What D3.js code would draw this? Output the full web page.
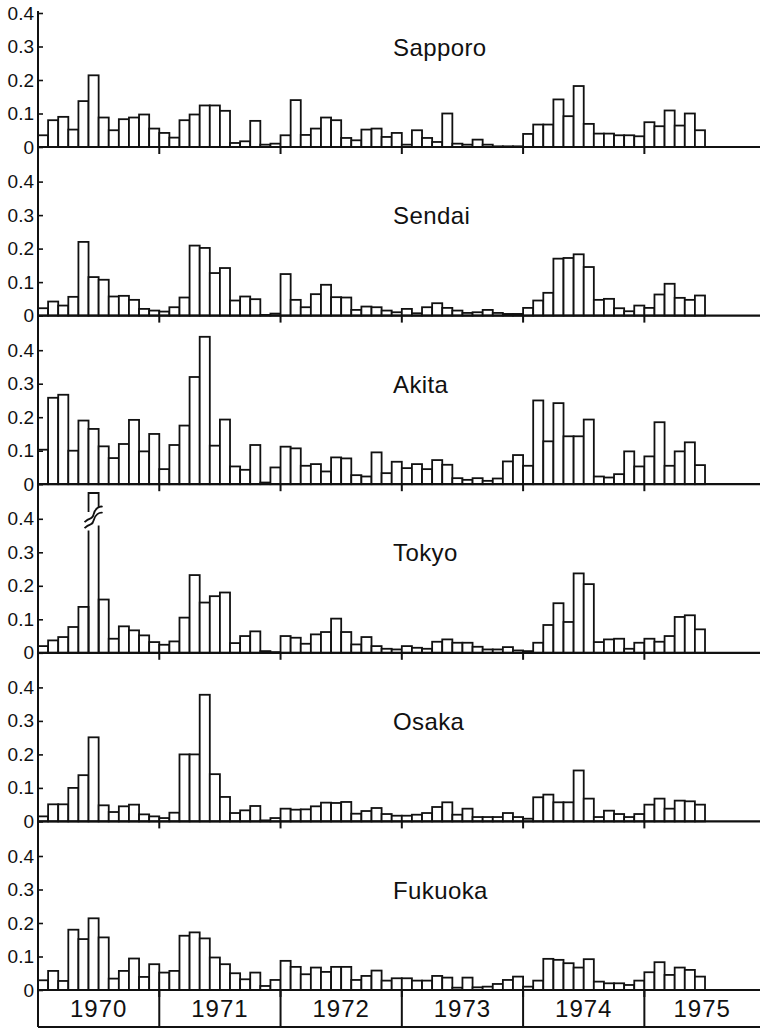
<!DOCTYPE html>
<html>
<head>
<meta charset="utf-8">
<script src="https://cdn.jsdelivr.net/npm/d3@7"></script>
<style>
  body { margin: 0; background: #fff; }
  text { font-family: "Liberation Sans", Arial, sans-serif; fill: #111; }
</style>
</head>
<body>
<svg id="chart" width="761" height="1030"></svg>
<script>
// monthly values, Jan 1970 .. Jun 1975
var years = [1970, 1971, 1972, 1973, 1974, 1975];
var monthsPerYear = [12, 12, 12, 12, 12, 6];
var stations = ['Sapporo', 'Sendai', 'Akita', 'Tokyo', 'Osaka', 'Fukuoka'];
var yTicks = [0, 0.1, 0.2, 0.3, 0.4];

var sapporo = [
  .035, .08, .09, .052, .137, .214, .088, .05, .083, .088, .097, .055,
  .042, .028, .08, .097, .124, .124, .108, .012, .017, .078, .007, .01,
  .035, .14, .036, .055, .088, .08, .027, .02, .052, .055, .03, .042,
  .007, .05, .027, .015, .1, .01, .007, .022, .007, .002, .002, .002,
  .039, .067, .067, .142, .092, .182, .069, .04, .04, .035, .035, .032,
  .074, .062, .109, .064, .1, .05
];
var sendai = [
  .022, .042, .03, .056, .22, .115, .107, .057, .059, .047, .02, .015,
  .012, .025, .054, .209, .202, .127, .142, .045, .057, .049, .002, .006,
  .124, .047, .025, .064, .092, .055, .054, .017, .027, .025, .015, .01,
  .02, .007, .025, .037, .023, .015, .008, .01, .017, .008, .005, .005,
  .023, .045, .068, .17, .172, .183, .145, .047, .05, .022, .013, .03,
  .023, .063, .095, .053, .047, .06
];
var akita = [
  .103, .258, .267, .1, .19, .165, .113, .078, .12, .192, .098, .15,
  .045, .117, .175, .32, .44, .115, .193, .053, .043, .117, .005, .05,
  .112, .107, .055, .06, .038, .08, .077, .027, .023, .095, .033, .067,
  .048, .06, .045, .072, .058, .018, .013, .018, .01, .017, .068, .087,
  .055, .25, .128, .242, .143, .143, .193, .023, .02, .03, .098, .053,
  .083, .185, .055, .098, .125, .057
];
var tokyo = [
  .02, .037, .047, .077, .137, .6, .159, .042, .079, .067, .052, .032,
  .024, .034, .105, .232, .15, .169, .18, .029, .05, .064, .005, .002,
  .05, .045, .027, .055, .062, .102, .062, .025, .047, .02, .012, .01,
  .02, .015, .012, .033, .04, .03, .03, .018, .01, .01, .017, .007,
  .005, .03, .083, .148, .092, .237, .205, .032, .04, .042, .012, .03,
  .042, .033, .05, .107, .112, .07
];
var osaka = [
  .015, .051, .051, .1, .138, .251, .048, .028, .045, .05, .021, .015,
  .01, .026, .2, .2, .378, .141, .073, .025, .033, .046, .003, .01,
  .038, .035, .036, .045, .056, .055, .058, .023, .031, .04, .022, .017,
  .017, .02, .025, .043, .057, .02, .038, .013, .013, .013, .025, .013,
  .008, .072, .08, .057, .057, .152, .068, .013, .032, .022, .013, .022,
  .05, .068, .038, .062, .06, .05
];
var fukuoka = [
  .029, .057, .027, .18, .152, .214, .157, .034, .057, .094, .039, .077,
  .052, .057, .162, .172, .154, .097, .077, .05, .032, .052, .012, .03,
  .087, .069, .047, .067, .054, .069, .069, .03, .042, .058, .028, .035,
  .035, .028, .028, .042, .037, .007, .037, .008, .01, .018, .03, .04,
  .01, .028, .093, .09, .08, .067, .092, .025, .02, .02, .015, .028,
  .053, .083, .045, .067, .06, .04
];
var series = [sapporo, sendai, akita, tokyo, osaka, fukuoka];

var months = [];
years.forEach(function(yr, i) {
  d3.range(monthsPerYear[i]).forEach(function(m) { months.push(yr + '-' + (m + 1)); });
});

var left = 38, barsEnd = 705, right = 760;
var firstBase = 147, panelStep = 168.6, panelH = 134;
var boxBottom = 1027;
var breakAt = 0.45;   // values above this are drawn as a broken bar

var svg = d3.select('#chart');
svg.append('rect').attr('width', 761).attr('height', 1030).attr('fill', '#fff');

var x = d3.scaleBand().domain(months).range([left, barsEnd]).padding(0);
var yearX = years.map(function(yr) { return x(yr + '-1'); });

series.forEach(function(vals, p) {
  var base = firstBase + p * panelStep;
  var y = d3.scaleLinear().domain([0, 0.4]).range([base, base - panelH]);
  var g = svg.append('g');

  // bars
  g.selectAll('rect.bar')
    .data(vals.map(function(v, i) { return {m: months[i], v: v}; }).filter(function(d) { return d.v <= breakAt; }))
    .enter().append('rect')
    .attr('class', 'bar')
    .attr('x', function(d) { return x(d.m); })
    .attr('y', function(d) { return y(d.v); })
    .attr('width', x.bandwidth())
    .attr('height', function(d) { return base - y(d.v); })
    .attr('fill', '#fff')
    .attr('stroke', '#111')
    .attr('stroke-width', 1.8);

  // broken (off-scale) bars
  vals.forEach(function(v, i) {
    if (v <= breakAt) return;
    var x0 = x(months[i]), x1 = x0 + x.bandwidth();
    var bg = g.append('g').attr('fill', 'none').attr('stroke', '#111').attr('stroke-width', 1.8);
    bg.append('path').attr('d', 'M' + x0 + ',' + base + 'V' + y(0.365) + 'M' + x1 + ',' + base + 'V' + y(0.38));
    bg.append('path').attr('d', 'M' + x0 + ',' + y(0.42) + 'V' + y(0.477) + 'H' + x1 + 'V' + y(0.432));
    [0, 0.018].forEach(function(o) {
      var ya = y(0.372 + o), yb = y(0.418 + o);
      bg.append('path').attr('d',
        'M' + (x0 - 4) + ',' + ya +
        'C' + (x0 + 2) + ',' + (ya - 6) + ' ' + (x0 + 4) + ',' + (ya - 2) + ' ' + ((x0 + x1) / 2) + ',' + ((ya + yb) / 2) +
        'S' + (x1 + 1) + ',' + (yb - 1) + ' ' + (x1 + 4) + ',' + yb);
    });
  });

  // y axis ticks and labels
  var ax = g.append('g').attr('transform', 'translate(' + left + ',0)')
    .call(d3.axisLeft(y).tickValues(yTicks).tickSizeInner(-5).tickSizeOuter(0).tickPadding(4)
      .tickFormat(function(d) { return d === 0 ? '0' : d3.format('.1f')(d); }));
  ax.select('.domain').remove();
  ax.selectAll('line').attr('stroke', '#111').attr('stroke-width', 1.6);
  ax.selectAll('text').attr('font-size', 19).attr('font-family', '"Liberation Sans", Arial, sans-serif').attr('fill', '#111');

  // baseline and year ticks
  g.append('line').attr('x1', left).attr('x2', right).attr('y1', base).attr('y2', base)
    .attr('stroke', '#111').attr('stroke-width', 2.2);
  g.selectAll('line.yt').data(yearX.slice(1)).enter().append('line')
    .attr('class', 'yt')
    .attr('x1', function(d) { return d; }).attr('x2', function(d) { return d; })
    .attr('y1', base).attr('y2', base + 7)
    .attr('stroke', '#111').attr('stroke-width', 2);

  // station name
  g.append('text').attr('x', 393).attr('y', y(0.3) + 9)
    .attr('font-size', 24).attr('letter-spacing', 0.4)
    .text(stations[p]);
});

// continuous left axis
svg.append('line').attr('x1', left).attr('x2', left).attr('y1', 11).attr('y2', boxBottom)
  .attr('stroke', '#111').attr('stroke-width', 2);

// year boxes along the bottom
var lastBase = firstBase + 5 * panelStep;
svg.append('line').attr('x1', left).attr('x2', right).attr('y1', boxBottom).attr('y2', boxBottom)
  .attr('stroke', '#111').attr('stroke-width', 2);
svg.selectAll('line.div').data(yearX.slice(1)).enter().append('line')
  .attr('class', 'div')
  .attr('x1', function(d) { return d; }).attr('x2', function(d) { return d; })
  .attr('y1', lastBase).attr('y2', boxBottom)
  .attr('stroke', '#111').attr('stroke-width', 2);
svg.selectAll('text.year').data(years).enter().append('text')
  .attr('class', 'year')
  .attr('x', function(d, i) { var e = i < years.length - 1 ? yearX[i + 1] : right; return (yearX[i] + e) / 2; })
  .attr('y', boxBottom - 10)
  .attr('text-anchor', 'middle')
  .attr('font-size', 24)
  .attr('letter-spacing', 1)
  .text(function(d) { return d; });
</script>
</body>
</html>
